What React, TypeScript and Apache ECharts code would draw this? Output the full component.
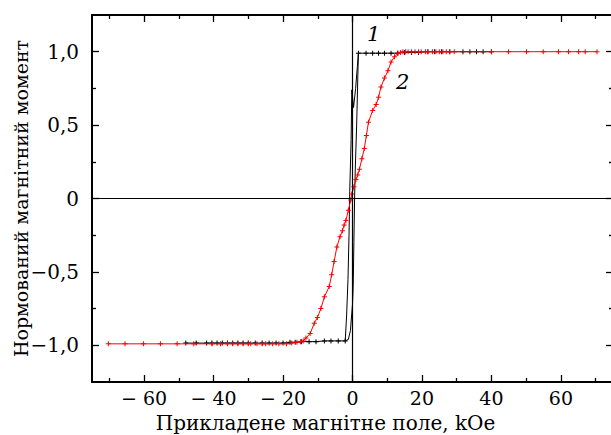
import React, { useEffect, useRef } from "react";
import * as echarts from "echarts";

// Curve 2 (red)
const redX = [-70.3, -65.5, -60.2, -55.3, -50.5, -45.7, -40.4, -38, -36, -34.5, -33, -31.5, -30, -29.3, -27.5, -26, -25, -23, -21.2, -19, -17.5, -16, -15, -14.2, -13.4, -12.2, -11.0, -10.1, -9.1, -8.1, -6.7, -6.0, -5.3, -4.5, -3.6, -2.9, -2.4, -1.9, -1.2, -0.5, -0.2, 0.4, 1.0, 1.5, 2.0, 2.7, 3.4, 4.0, 4.6, 5.8, 6.8, 7.5, 8.2, 9.2, 10.2, 11.1, 12.1, 13.1, 13.8, 14.5, 15.3, 16.0, 17, 18, 19, 19.8, 21, 21.7, 23, 24, 25, 26, 27, 28, 29.3, 40, 44.9, 50.1, 54.9, 59.3, 62.2, 65.1, 67, 70.4];
const redY = [-0.99, -0.99, -0.99, -0.99, -0.99, -0.99, -0.99, -0.99, -0.99, -0.99, -0.99, -0.99, -0.99, -0.99, -0.99, -0.99, -0.99, -0.99, -0.99, -0.99, -0.985, -0.98, -0.975, -0.97, -0.95, -0.92, -0.85, -0.81, -0.75, -0.67, -0.6, -0.52, -0.43, -0.33, -0.26, -0.22, -0.18, -0.15, -0.08, -0.01, 0.03, 0.08, 0.13, 0.16, 0.2, 0.27, 0.34, 0.43, 0.52, 0.6, 0.64, 0.69, 0.76, 0.82, 0.87, 0.93, 0.965, 0.99, 0.995, 1.0, 1.0, 1.0, 1.0, 1.0, 1.0, 1.0, 1.0, 1.0, 1.0, 1.0, 1.0, 1.0, 1.0, 1.0, 1.0, 1.0, 1.0, 1.0, 1.0, 1.0, 1.0, 1.0, 1.0, 1.0];

// Curve 1 (black) – flat parts with markers
const blackBottomX = [-48, -45, -42, -40.5, -39, -37.5, -36, -34.5, -33, -31.5, -30, -28, -26, -24, -22, -20, -18, -16.5, -14.7, -12.5, -10.5, -8.1, -6.2, -4.1, -2.1];
const blackBottomY = [-0.985, -0.985, -0.985, -0.985, -0.985, -0.985, -0.985, -0.985, -0.985, -0.985, -0.985, -0.985, -0.985, -0.985, -0.985, -0.985, -0.98, -0.98, -0.975, -0.975, -0.975, -0.97, -0.97, -0.97, -0.97];
const blackTopX = [1.7, 3.9, 5.8, 7.5, 9.2, 11.1, 13, 15, 17, 19, 21.7, 23.6, 25.6, 28, 31.8, 33.8, 35.7, 37.6, 40];
const blackTopY = [0.99, 0.99, 0.99, 0.99, 0.99, 0.99, 0.99, 0.995, 0.995, 0.995, 1.0, 1.0, 1.0, 1.0, 1.0, 1.0, 1.0, 1.0, 1.0];
// Curve 1 – switching branches
const blackRiseX = [-2.1, -1.7, -1.3, -1.0, -0.8, -0.4, -0.2, 0.3, 0.9, 1.4, 1.7];
const blackRiseY = [-0.97, -0.8, -0.55, -0.25, 0.05, 0.4, 0.74, 0.62, 0.75, 0.9, 0.99];
const blackFallX = [1.7, 1.5, 1.2, 0.8, 0.6, 0.4, 0.2, 0.0, -0.6, -1.2, -2.1];
const blackFallY = [0.99, 0.8, 0.5, 0.2, 0.0, -0.3, -0.6, -0.72, -0.9, -0.96, -0.97];

const xMajor = [-60, -40, -20, 0, 20, 40, 60];
const xMinor = [-70, -50, -30, -10, 10, 30, 50, 70];
const yMajor = [-1, -0.5, 0, 0.5, 1];
const yMinor = [-0.75, -0.25, 0.25, 0.75];

const xName = "Прикладене магнітне поле, kOe";
const yName = "Нормований магнітний момент";

const FONT = "DejaVu Serif";
const PLUS = "path://M2,0H3V2H5V3H3V5H2V3H0V2H2Z";

const zip = (xs: number[], ys: number[]) => xs.map((x, i) => [x, ys[i]]);

export default function App() {
  const ref = useRef<HTMLDivElement>(null);
  useEffect(() => {
    if (!ref.current) return;
    const chart = echarts.init(ref.current, undefined, { renderer: "svg" });
    const lineCol = "#000";
    const xBase = (pos: string, vals: number[], len: number, main: boolean, showLine: boolean) => ({
      type: "value",
      position: pos,
      min: -75,
      max: 75,
      axisLine: { show: showLine, onZero: false, lineStyle: { color: lineCol, width: 2 } },
      axisTick: { show: true, inside: true, length: len, customValues: vals, lineStyle: { color: lineCol, width: 1.3 } },
      axisLabel: {
        show: main,
        customValues: vals,
        margin: 6,
        color: "#000",
        fontFamily: FONT,
        fontSize: 19,
        formatter: (v: number) => (v < 0 ? "\u2212 " + Math.abs(v) : String(v)),
      },
      splitLine: { show: false },
      name: main ? xName : "",
      nameLocation: "middle",
      nameGap: 31,
      nameMoveOverlap: false,
      nameTextStyle: { color: "#000", fontFamily: FONT, fontSize: 20, padding: [0, 54, 0, 0] },
    });
    const yBase = (pos: string, vals: number[], len: number, main: boolean, showLine: boolean) => ({
      type: "value",
      position: pos,
      min: -1.25,
      max: 1.25,
      axisLine: { show: showLine, onZero: false, lineStyle: { color: lineCol, width: 2 } },
      axisTick: { show: true, inside: true, length: len, customValues: vals, lineStyle: { color: lineCol, width: 1.3 } },
      axisLabel: {
        show: main,
        customValues: vals,
        margin: 13,
        color: "#000",
        fontFamily: FONT,
        fontSize: 20,
        formatter: (v: number) =>
          v === 0 ? "0" : (v < 0 ? "\u2212" : "") + Math.abs(v).toFixed(1).replace(".", ","),
      },
      splitLine: { show: false },
      name: main ? yName : "",
      nameLocation: "middle",
      nameGap: 62,
      nameMoveOverlap: false,
      nameTextStyle: { color: "#000", fontFamily: FONT, fontSize: 19 },
    });
    const blackLine = (data: number[][], markers: boolean) => ({
      type: "line",
      data,
      xAxisIndex: 0,
      yAxisIndex: 0,
      showSymbol: markers,
      symbol: PLUS,
      symbolSize: 5,
      itemStyle: { color: "#000" },
      lineStyle: { color: "#000", width: 1 },
      z: 2,
    });
    chart.setOption({
      animation: false,
      backgroundColor: "#fff",
      textStyle: { fontFamily: FONT },
      grid: { left: 92, right: 0, top: 15, bottom: 53, containLabel: false, outerBoundsMode: "none" },
      xAxis: [
        xBase("bottom", xMajor, 7, true, true),
        xBase("bottom", xMinor, 4, false, false),
        xBase("top", xMajor, 7, false, true),
        xBase("top", xMinor, 4, false, false),
      ],
      yAxis: [
        yBase("left", yMajor, 7, true, true),
        yBase("left", yMinor, 4, false, false),
        yBase("right", yMajor, 7, false, true),
        yBase("right", yMinor, 4, false, false),
      ],
      series: [
        {
          type: "line",
          data: [],
          xAxisIndex: 0,
          yAxisIndex: 0,
          markLine: {
            silent: true,
            symbol: "none",
            label: { show: false },
            lineStyle: { color: "#000", width: 1.2, type: "solid" },
            data: [{ xAxis: 0 }, { yAxis: 0 }],
          },
        },
        blackLine(zip(blackBottomX, blackBottomY), true),
        blackLine(zip(blackRiseX, blackRiseY), false),
        blackLine(zip(blackTopX, blackTopY), true),
        blackLine(zip(blackFallX, blackFallY), false),
        {
          type: "line",
          data: zip(redX, redY),
          xAxisIndex: 0,
          yAxisIndex: 0,
          showSymbol: true,
          symbol: PLUS,
          symbolSize: 5,
          itemStyle: { color: "#ff0000" },
          lineStyle: { color: "#ff0000", width: 1 },
          z: 3,
        },
      ],
      graphic: [
        { type: "text", left: 367, top: 23, style: { text: "1", fontFamily: FONT, fontStyle: "italic", fontSize: 21, fill: "#000" } },
        { type: "text", left: 396, top: 71, style: { text: "2", fontFamily: FONT, fontStyle: "italic", fontSize: 21, fill: "#000" } },
      ],
    });
    return () => chart.dispose();
  }, []);
  return (
    <div style={{ position: "fixed", left: 0, top: 0, width: 611, height: 435, overflow: "hidden", background: "#fff" }}>
      <div ref={ref} style={{ width: 613, height: 435 }} />
    </div>
  );
}
